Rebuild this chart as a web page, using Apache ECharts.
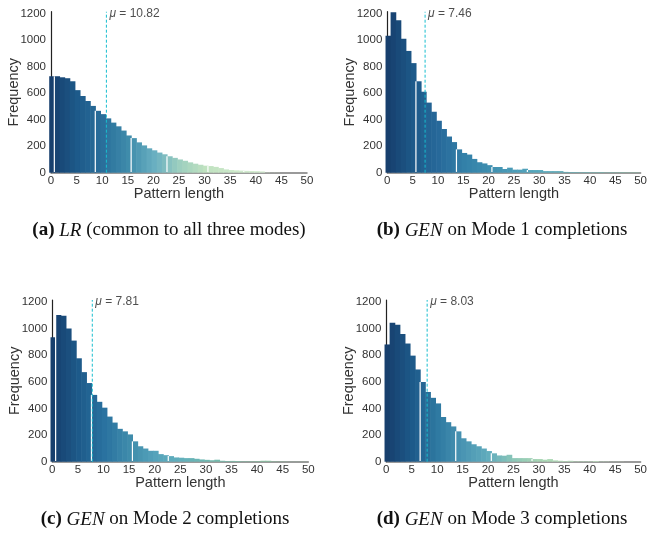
<!DOCTYPE html>
<html><head><meta charset="utf-8">
<script src="https://cdn.jsdelivr.net/npm/echarts@6/dist/echarts.min.js"></script>
<style>html,body{margin:0;padding:0;background:#fff}#c{width:650px;height:533px}</style>
</head><body><div id="c"></div>
<script>
// ---- data ----
const patternLengths = [0,1,2,3,4,5,6,7,8,9,10,11,12,13,14,15,16,17,18,19,20,21,22,23,24,25,26,27,28,29,30,31,32,33,34,35,36,37,38,39,40,41,42,43,44,45,46,47,48,49];
const freqLR   = [728,728,720,713,690,623,579,541,504,467,442,410,378,350,318,281,261,229,206,184,169,152,139,124,112,100,90,78,68,60,53,50,44,35,25,20,18,16,14,13,12,10,2,1,1,0,0,0,0,0];
const freqGEN1 = [1033,1210,1150,1011,919,827,690,611,529,460,392,330,273,231,176,149,137,104,79,70,57,43,43,28,38,23,23,30,20,20,20,12,12,12,12,6,5,5,4,5,4,4,5,3,4,3,4,3,3,3];
const freqGEN2 = [935,1103,1096,1000,910,777,673,591,502,450,406,339,294,247,228,205,153,116,99,82,82,57,49,42,32,30,27,27,22,17,14,11,15,7,5,6,5,3,3,3,4,7,7,3,2,2,1,1,1,1];
const freqGEN3 = [881,1044,1029,960,888,797,693,599,524,480,438,336,297,265,228,176,153,131,116,99,80,63,47,45,52,27,27,27,27,20,20,15,20,10,7,5,7,3,3,3,3,5,2,2,1,1,1,0,0,0];
const means = [10.82, 7.46, 7.81, 8.03];
const xTicks = [0,5,10,15,20,25,30,35,40,45,50];
const yTicks = [0,200,400,600,800,1000,1200];

// ---- style ----
const panels = [
  {freq: freqLR,   grid:{left:51,  top:11.7, width:256,   height:161},
   stops:[[0,'#173f6d'],[5,'#1d5a8a'],[10,'#2a6f9b'],[15,'#3f8cab'],[20,'#69afc1'],[25,'#9dcfbf'],[30,'#c0e2c0'],[40,'#d5edd1']],
   gaps:[1,9,16,23,31,38]},
  {freq: freqGEN1, grid:{left:387.3,top:11.7, width:256.7, height:161},
   stops:[[0,'#173f6d'],[5,'#1d5a8a'],[10,'#27699a'],[15,'#3380a8'],[20,'#3f8fb0'],[25,'#4c9db8'],[30,'#56a8bc'],[40,'#6fb0b0'],[50,'#8ab8a0']],
   gaps:[6,14,21,28]},
  {freq: freqGEN2, grid:{left:52.3, top:300,  width:256,   height:161.7},
   stops:[[0,'#173f6d'],[5,'#1d5a8a'],[10,'#2a72a0'],[15,'#3f8cab'],[20,'#55a3bb'],[25,'#62b0bc'],[30,'#6fb8b0'],[40,'#85c0a0'],[50,'#90c49c']],
   gaps:[1,8,16,23]},
  {freq: freqGEN3, grid:{left:386.3,top:300,  width:255.4, height:161.7},
   stops:[[0,'#173f6d'],[5,'#1d5a8a'],[10,'#2f7aa2'],[15,'#4a95b3'],[20,'#62adbd'],[25,'#8ec8b8'],[30,'#a8d6b4'],[35,'#b8dfbc'],[50,'#c8e6c6']],
   gaps:[7,14,21,29]}
];
const captions = [
  {parts:['(a)','LR','(common to all three modes)'], x:164, y:216},
  {parts:['(b)','GEN','on Mode 1 completions'], x:497, y:216},
  {parts:['(c)','GEN','on Mode 2 completions'], x:160, y:505},
  {parts:['(d)','GEN','on Mode 3 completions'], x:497, y:505}
];

function hex2rgb(h){return [parseInt(h.substr(1,2),16),parseInt(h.substr(3,2),16),parseInt(h.substr(5,2),16)];}
function colorAt(stops, x){
  if (x <= stops[0][0]) return stops[0][1];
  for (let i=1;i<stops.length;i++){
    if (x <= stops[i][0]){
      const t=(x-stops[i-1][0])/(stops[i][0]-stops[i-1][0]);
      const a=hex2rgb(stops[i-1][1]), b=hex2rgb(stops[i][1]);
      return 'rgb('+a.map((v,j)=>Math.round(v+(b[j]-v)*t)).join(',')+')';
    }
  }
  return stops[stops.length-1][1];
}

const chart = echarts.init(document.getElementById('c'), null, {renderer:'canvas'});
const FONT = '"Liberation Sans", Arial, sans-serif';
const SERIF = '"Liberation Serif", serif';
const grid=[], xAxis=[], yAxis=[], series=[], title=[];
panels.forEach((p,i)=>{
  grid.push(Object.assign({containLabel:false}, p.grid));
  xAxis.push({type:'value', gridIndex:i, min:xTicks[0], max:xTicks[xTicks.length-1], interval:xTicks[1]-xTicks[0],
    axisLine:{show:true, onZero:false, lineStyle:{color:'#7a7a7a', width:1.5}},
    axisTick:{show:false}, splitLine:{show:false},
    axisLabel:{fontSize:11.5, color:'#333', margin:2, fontFamily:FONT},
    name:'Pattern length', nameLocation:'middle', nameGap:14, nameMoveOverlap:false,
    nameTextStyle:{fontSize:14.5, color:'#333', fontFamily:FONT}});
  yAxis.push({type:'value', gridIndex:i, min:0, max:1215, interval:yTicks[1]-yTicks[0], offset:2,
    axisLine:{show:true, lineStyle:{color:'#222', width:1.2}},
    axisTick:{show:false}, splitLine:{show:false},
    axisLabel:{fontSize:11.5, color:'#333', margin:3, fontFamily:FONT,
      formatter:v=> yTicks.indexOf(v)>=0 ? String(v) : ''},
    name:'Frequency', nameLocation:'middle', nameGap:28, nameRotate:90, nameMoveOverlap:false,
    nameTextStyle:{fontSize:14.5, color:'#333', fontFamily:FONT}});
  const data = patternLengths.map((k,j)=>[k, p.freq[j]]);
  series.push({type:'custom', xAxisIndex:i, yAxisIndex:i, clip:false, silent:true, data:data,
    renderItem:(params, api)=>{
      const k=api.value(0), v=api.value(1);
      if (!v) return null;
      const a=api.coord([k-0.35, v]), b=api.coord([k+0.65, 0]);
      const children=[{type:'rect', shape:{x:a[0], y:a[1], width:b[0]-a[0]+0.6, height:b[1]-a[1]},
        style:{fill:colorAt(p.stops, k)}}];
      if (p.gaps.indexOf(k)>=0){
        children.push({type:'line', shape:{x1:a[0], y1:a[1], x2:a[0], y2:b[1]-0.8},
          style:{stroke:'#ffffff', lineWidth:1.2}});
      }
      return {type:'group', children:children};
    }});
  series.push({type:'line', xAxisIndex:i, yAxisIndex:i, data:[[means[i],0],[means[i],1215]],
    symbol:'none', silent:true, z:5,
    lineStyle:{color:'#17becf', width:1, type:[3,2]}});
  series.push({type:'scatter', xAxisIndex:i, yAxisIndex:i, data:[[means[i],1200]], symbolSize:0, silent:true,
    label:{show:true, position:'right', distance:3, fontFamily:FONT, fontSize:12, color:'#222',
      formatter:'{g|μ} = '+means[i].toFixed(2), rich:{g:{fontStyle:'italic', fontFamily:FONT, fontSize:12, color:'#222'}}}});
});
captions.forEach(c=>{
  title.push({text:'{b|'+c.parts[0]+'} {i|'+c.parts[1]+'} {n|'+c.parts[2]+'}', left:c.x, top:c.y, textAlign:'center',
    textStyle:{fontFamily:SERIF, fontSize:19, fontWeight:'normal', color:'#111',
      rich:{b:{fontWeight:'bold', fontFamily:SERIF, fontSize:19, color:'#111'},
            i:{fontStyle:'italic', fontWeight:'normal', fontFamily:SERIF, fontSize:19, color:'#111'},
            n:{fontWeight:'normal', fontFamily:SERIF, fontSize:19, color:'#111'}}}});
});
chart.setOption({animation:false, backgroundColor:'#fff', title, grid, xAxis, yAxis, series});
</script></body></html>
